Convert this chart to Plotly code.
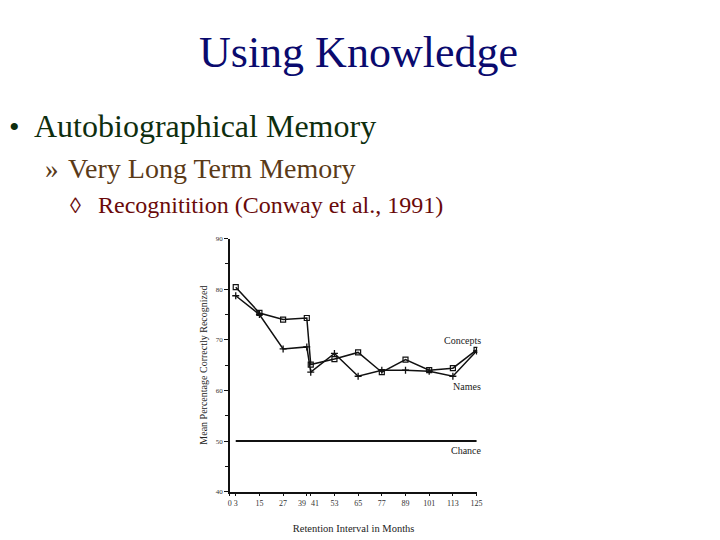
import plotly.graph_objects as go

# ---- data ----
months = [3, 15, 27, 39, 41, 53, 65, 77, 89, 101, 113, 125]
concepts = [80.4, 75.3, 74.0, 74.3, 65.1, 66.2, 67.5, 63.6, 66.1, 64.0, 64.4, 68.0]
names = [78.7, 75.0, 68.2, 68.6, 63.6, 67.3, 62.8, 64.0, 64.0, 63.8, 62.8, 67.8]
chance_x = [3, 125]
chance_y = [50, 50]
x_tickvals = [0, 3, 15, 27, 39, 41, 53, 65, 77, 89, 101, 113, 125]
x_ticktext = ["0", "3", "15", "27", "39", "41", "53", "65", "77", "89", "101", "113", "125"]
y_tickvals = [40, 50, 60, 70, 80, 90]
crowded = {39: -5, 41: 4}   # labels nudged apart (drawn separately)

# page body has an 8px margin; figure sized to fit the 720x540 window
OFF = 8
W, H = 720 - OFF, 540 - OFF
def px(x): return (x - OFF) / W
def py(y): return 1 - (y - OFF) / H

SERIF = "Liberation Serif, Times New Roman, serif"
INK = "#111111"
TICKFONT = dict(size=8, family=SERIF, color="#333")

fig = go.Figure()
fig.add_trace(go.Scatter(x=months, y=concepts, mode="lines+markers",
                         line=dict(color=INK, width=1.5),
                         marker=dict(symbol="square-open", size=5, color=INK, line=dict(width=1.2)),
                         showlegend=False))
fig.add_trace(go.Scatter(x=months, y=names, mode="lines+markers",
                         line=dict(color=INK, width=1.5),
                         marker=dict(symbol="cross-thin", size=5, color=INK, line=dict(width=1.3, color=INK)),
                         showlegend=False))
fig.add_trace(go.Scatter(x=chance_x, y=chance_y, mode="lines",
                         line=dict(color=INK, width=2), showlegend=False))

axis_text = [t if v not in crowded else "" for v, t in zip(x_tickvals, x_ticktext)]

fig.update_layout(
    width=W, height=H,
    margin=dict(l=0, r=0, t=0, b=0),
    paper_bgcolor="white", plot_bgcolor="white",
    font=dict(family=SERIF, color=INK),
    xaxis=dict(domain=[px(230), px(480)], range=[0, 125.4],
               tickmode="array", tickvals=x_tickvals, ticktext=axis_text,
               tickangle=0, ticks="outside", ticklen=3, tickcolor=INK,
               tickfont=TICKFONT,
               showline=True, linecolor=INK, linewidth=1.5, showgrid=False, zeroline=False,
               title=dict(text="Retention Interval in Months", font=dict(size=10.5, family=SERIF, color="#222"), standoff=18)),
    yaxis=dict(domain=[py(495), py(238)], range=[40, 90],
               tickmode="array", tickvals=y_tickvals,
               ticks="outside", ticklen=4, tickcolor=INK,
               minor=dict(dtick=5, ticks="outside", ticklen=3, tickcolor=INK),
               tickfont=dict(size=7, family=SERIF, color="#333"),
               showline=True, linecolor=INK, linewidth=1.5, showgrid=False, zeroline=False,
               title=dict(text="Mean Percentage Correctly Recognized", font=dict(size=10, family=SERIF, color="#222"), standoff=6)),
)

# crowded tick labels, placed at their own tick values
for v, t in zip(x_tickvals, x_ticktext):
    if v in crowded:
        fig.add_annotation(x=v, xref="x", y=py(507), yref="paper", text=t, showarrow=False,
                           xshift=crowded[v], yanchor="middle", font=TICKFONT)

annots = [
    dict(x=px(360), y=py(49), text="Using Knowledge", font=dict(size=44, color="#0a0a6e"), xanchor="center"),
    dict(x=px(5), y=py(124), text="•", font=dict(size=30, color="#0e2e0e"), xanchor="left"),
    dict(x=px(30), y=py(124), text="Autobiographical Memory", font=dict(size=32, color="#0e2e0e"), xanchor="left"),
    dict(x=px(41), y=py(167), text="»", font=dict(size=27, color="#5a3a18"), xanchor="left"),
    dict(x=px(65), y=py(167), text="Very Long Term Memory", font=dict(size=28, color="#5a3a18"), xanchor="left"),
    dict(x=px(67), y=py(204), text="◊", font=dict(size=22, color="#6a0a0a"), xanchor="left"),
    dict(x=px(95), y=py(204), text="Recognitition (Conway et al., 1991)", font=dict(size=24, color="#6a0a0a"), xanchor="left"),
    dict(x=px(444), y=py(342), text="Concepts", font=dict(size=10, color="#222"), xanchor="left"),
    dict(x=px(453), y=py(388), text="Names", font=dict(size=10, color="#222"), xanchor="left"),
    dict(x=px(451), y=py(453), text="Chance", font=dict(size=10, color="#222"), xanchor="left"),
]
for a in annots:
    a.update(xref="paper", yref="paper", showarrow=False, yanchor="middle")
    a["font"]["family"] = SERIF
    fig.add_annotation(**a)

fig.write_html("out.html")
